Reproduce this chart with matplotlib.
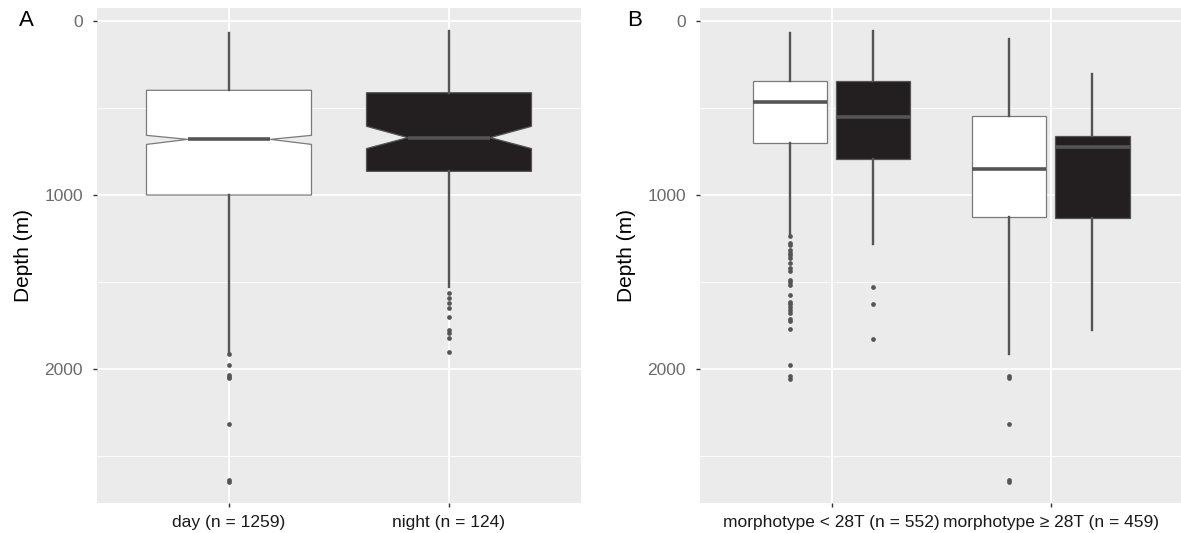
import matplotlib
matplotlib.use("Agg")
import matplotlib.pyplot as plt

plt.rcParams['font.family'] = ['Liberation Sans', 'DejaVu Sans']

# ---- panel A: day vs night (notched) ----
a_labels = ["day (n = 1259)", "night (n = 124)"]
a_whislo = [67, 59]
a_q1 = [398, 412]
a_med = [680, 670]
a_q3 = [1000, 864]
a_whishi = [1908, 1529]
a_cilo = [657, 605]
a_cihi = [709, 733]
a_fliers = [
    [1913, 1975, 2036, 2046, 2050, 2314, 2640, 2650],
    [1565, 1590, 1619, 1647, 1703, 1776, 1791, 1824, 1904],
]

# ---- panel B: morphotype groups, day (white) and night (black) ----
b_labels = ["morphotype < 28T (n = 552)", "morphotype \u2265 28T (n = 459)"]
b_day_whislo = [67, 101]
b_day_q1 = [345, 548]
b_day_med = [463, 848]
b_day_q3 = [699, 1126]
b_day_whishi = [1222, 1912]
b_day_fliers = [
    [1235, 1276, 1285, 1318, 1333, 1347, 1360, 1391, 1420, 1438, 1486, 1500,
     1519, 1572, 1615, 1628, 1644, 1663, 1678, 1710, 1724, 1768, 1975, 2042, 2055],
    [2042, 2050, 2314, 2640, 2650],
]
b_night_whislo = [59, 302]
b_night_q1 = [347, 663]
b_night_med = [550, 724]
b_night_q3 = [793, 1130]
b_night_whishi = [1279, 1774]
b_night_fliers = [[1529, 1626, 1825], []]

W, H = 1181, 533
fig = plt.figure(figsize=(W / 100, H / 100), dpi=100)

line_col = '#555555'
tick_col = '#6b6b6b'


def make_stats(whislo, q1, med, q3, whishi, fliers, cilo=None, cihi=None):
    out = []
    for i in range(len(med)):
        d = dict(whislo=whislo[i], q1=q1[i], med=med[i], q3=q3[i],
                 whishi=whishi[i], fliers=fliers[i])
        if cilo is not None:
            d['cilo'] = cilo[i]
            d['cihi'] = cihi[i]
        out.append(d)
    return out


def draw(ax, stats, pos, width, fill, edge, notch=False):
    ax.bxp(stats, positions=pos, widths=width, patch_artist=True,
           shownotches=notch, showcaps=False,
           boxprops=dict(facecolor=fill, edgecolor=edge, linewidth=0.9),
           whiskerprops=dict(color=line_col, linewidth=1.7),
           medianprops=dict(color=line_col, linewidth=2.6),
           flierprops=dict(marker='o', markersize=3.4, markerfacecolor=line_col,
                           markeredgecolor='none'))


def style(ax, labels, xmax, label_px):
    ax.set_facecolor('#EBEBEB')
    for s in ax.spines.values():
        s.set_visible(False)
    ax.set_axisbelow(True)
    ax.set_ylim(2770, -75)
    ax.set_xlim(0.4, xmax)
    ax.set_yticks([0, 1000, 2000])
    ax.set_yticks([500, 1500, 2500], minor=True)
    ax.set_xticks([1, 2])
    ax.set_xticklabels(labels)
    ax.grid(which='major', color='white', linewidth=1.3)
    ax.grid(which='minor', axis='y', color='white', linewidth=0.6)
    ax.tick_params(axis='y', which='major', length=3, width=1, color='#333333',
                   labelsize=12.5, labelcolor=tick_col, pad=7)
    ax.tick_params(axis='y', which='minor', length=0)
    ax.tick_params(axis='x', length=3, width=1, color='#333333',
                   labelsize=12.5, labelcolor='#1a1a1a', pad=6)
    ax.set_ylabel('Depth (m)', fontsize=15, color='black')
    ax.yaxis.set_label_coords(-64 / label_px, 0.5)


# panel A
axA = fig.add_axes([97 / W, 30 / H, 484 / W, 495 / H])
statsA = make_stats(a_whislo, a_q1, a_med, a_q3, a_whishi, a_fliers, a_cilo, a_cihi)
draw(axA, statsA[:1], [1], 0.75, 'white', '#7a7a7a', notch=True)
draw(axA, statsA[1:], [2], 0.75, '#231F20', '#555555', notch=True)
style(axA, a_labels, 2.6, 484)

# panel B
axB = fig.add_axes([700 / W, 30 / H, 481 / W, 495 / H])
stats_day = make_stats(b_day_whislo, b_day_q1, b_day_med, b_day_q3, b_day_whishi, b_day_fliers)
stats_night = make_stats(b_night_whislo, b_night_q1, b_night_med, b_night_q3, b_night_whishi, b_night_fliers)
draw(axB, stats_day, [1 - 0.19, 2 - 0.19], 0.34, 'white', '#7a7a7a')
draw(axB, stats_night, [1 + 0.19, 2 + 0.19], 0.34, '#231F20', '#555555')
style(axB, b_labels, 2.594, 481)

fig.text(26 / W, 1 - 21 / H, 'A', fontsize=16, ha='center', va='center')
fig.text(635 / W, 1 - 21 / H, 'B', fontsize=16, ha='center', va='center')

fig.savefig('out.png', dpi=100)
